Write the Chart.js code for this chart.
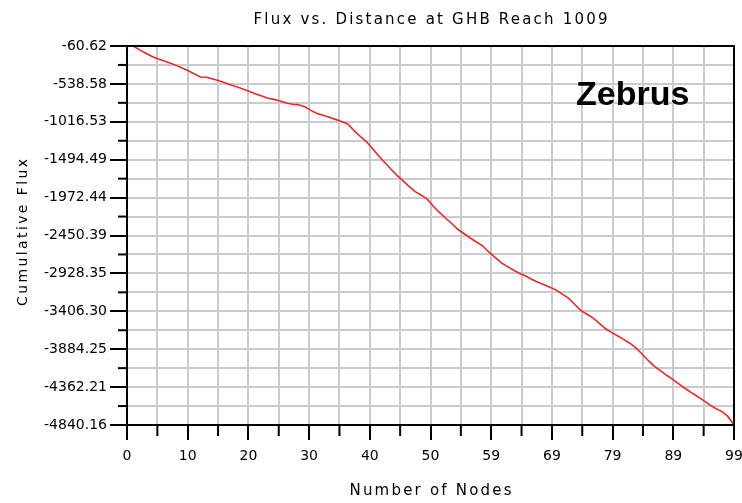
<!DOCTYPE html>
<html>
<head>
<meta charset="utf-8">
<script src="https://cdn.jsdelivr.net/npm/chart.js@4"></script>
<style>
  html, body { margin: 0; padding: 0; background: #fff; }
  #wrap { width: 742px; height: 503px; }
</style>
</head>
<body>
<div id="wrap"><canvas id="flux"></canvas></div>
<script>
const chartTitle = 'Flux vs. Distance at GHB Reach 1009';
const xTitle = 'Number of Nodes';
const yTitle = 'Cumulative Flux';
const stamp = 'Zebrus';

const nodes = [1, 2, 3, 4, 5, 6, 7, 8, 9, 10, 11, 12, 13, 14, 15, 16, 17, 18, 19, 20,
  21, 22, 23, 24, 25, 26, 27, 28, 29, 30, 31, 32, 33, 34, 35, 36, 37, 38, 39, 40,
  41, 42, 43, 44, 45, 46, 47, 48, 49, 50, 51, 52, 53, 54, 55, 56, 57, 58, 59, 60,
  61, 62, 63, 64, 65, 66, 67, 68, 69, 70, 71, 72, 73, 74, 75, 76, 77, 78, 79, 80,
  81, 82, 83, 84, 85, 86, 87, 88, 89, 90, 91, 92, 93, 94, 95, 96, 97, 98, 99];

const cumFlux = [-60.62, -106, -149, -190, -220, -247, -275, -305, -338, -372,
  -414, -452, -455, -477, -498, -525, -551, -578, -605, -633,
  -665, -691, -719, -734, -754, -779, -795, -802, -827, -872,
  -911, -933, -960, -986, -1014, -1043, -1124, -1197, -1262, -1351,
  -1441, -1527, -1609, -1690, -1759, -1830, -1897, -1942, -1996, -2085,
  -2163, -2233, -2302, -2375, -2428, -2482, -2532, -2580, -2658, -2724,
  -2792, -2840, -2885, -2926, -2962, -3003, -3041, -3071, -3102, -3139,
  -3189, -3241, -3317, -3395, -3443, -3490, -3556, -3623, -3672, -3714,
  -3761, -3809, -3868, -3945, -4026, -4097, -4155, -4213, -4264, -4321,
  -4377, -4429, -4478, -4530, -4583, -4632, -4668, -4732, -4840.16];

const xTickLabels = ['0', '10', '20', '30', '40', '50', '59', '69', '79', '89', '99'];
const yTickLabels = ['-60.62', '-538.58', '-1016.53', '-1494.49', '-1972.44', '-2450.39',
  '-2928.35', '-3406.30', '-3884.25', '-4362.21', '-4840.16'];

const xMax = Number(xTickLabels[xTickLabels.length - 1]);
const yMax = Number(yTickLabels[0]);
const yMin = Number(yTickLabels[yTickLabels.length - 1]);

// major ticks with a minor one half way between
function withMinor(lo, hi, n) {
  const out = [];
  const step = (hi - lo) / n;
  for (let i = 0; i <= n * 2; i++) out.push({ value: lo + i * step / 2 });
  return out;
}

const tickFont = { family: 'DejaVu Sans', size: 14 };
const gridCol = '#cbcbcb';

function spacedText(ctx, txt, x, y, spacing) {
  ctx.letterSpacing = spacing + 'px';
  ctx.fillText(txt, x + spacing / 2, y);
  ctx.letterSpacing = '0px';
}

const frame = {
  id: 'frame',
  afterDraw(chart) {
    const { ctx, chartArea: a, scales } = chart;
    const cx = (a.left + a.right) / 2;
    ctx.save();
    // minor tick marks
    ctx.strokeStyle = '#000';
    ctx.lineWidth = 2;
    scales.x.ticks.forEach((t, i) => {
      if (i % 2 === 0) return;
      const px = scales.x.getPixelForValue(t.value);
      ctx.beginPath(); ctx.moveTo(px, a.bottom); ctx.lineTo(px, a.bottom + 11); ctx.stroke();
    });
    scales.y.ticks.forEach((t, i) => {
      if (i % 2 === 0) return;
      const py = scales.y.getPixelForValue(t.value);
      ctx.beginPath(); ctx.moveTo(a.left, py); ctx.lineTo(a.left - 9, py); ctx.stroke();
    });
    ctx.strokeRect(a.left, a.top, a.right - a.left, a.bottom - a.top);

    ctx.fillStyle = '#000';
    ctx.textAlign = 'center';
    ctx.textBaseline = 'middle';
    ctx.font = '15px "DejaVu Sans"';
    spacedText(ctx, chartTitle, cx, 20, 2.2);
    spacedText(ctx, xTitle, cx, 491, 2.2);
    ctx.save();
    ctx.translate(23, (a.top + a.bottom) / 2 - 3);
    ctx.rotate(-Math.PI / 2);
    ctx.font = '14px "DejaVu Sans"';
    spacedText(ctx, yTitle, 0, 0, 2.4);
    ctx.restore();

    ctx.font = 'bold 34px "Liberation Sans"';
    ctx.textBaseline = 'alphabetic';
    ctx.fillText(stamp, a.left + (a.right - a.left) * 0.833, a.top + 59);
    ctx.restore();
  }
};

new Chart(document.getElementById('flux'), {
  type: 'line',
  data: {
    labels: nodes,
    datasets: [{
      data: cumFlux,
      borderColor: '#e8282b',
      borderWidth: 1.6,
      pointRadius: 0,
      tension: 0,
      fill: false
    }]
  },
  options: {
    responsive: true,
    maintainAspectRatio: false,
    animation: false,
    layout: { padding: { left: 0, right: 8, top: 46, bottom: 0 } },
    plugins: { legend: { display: false }, tooltip: { enabled: false } },
    scales: {
      x: {
        type: 'linear',
        min: 0,
        max: xMax,
        afterBuildTicks: s => { s.ticks = withMinor(0, xMax, xTickLabels.length - 1); },
        afterFit: s => { s.height = 78; s.paddingLeft = 0; s.paddingRight = 0; },
        border: { display: true, color: '#000', width: 2 },
        grid: {
          color: gridCol,
          lineWidth: 2,
          tickLength: 15,
          tickWidth: 2,
          tickColor: c => c.index % 2 ? 'rgba(0,0,0,0)' : '#000'
        },
        ticks: {
          autoSkip: false,
          maxRotation: 0,
          padding: 8,
          color: '#000',
          font: tickFont,
          callback: (v, i) => i % 2 ? '' : xTickLabels[i / 2]
        }
      },
      y: {
        min: yMin,
        max: yMax,
        afterBuildTicks: s => { s.ticks = withMinor(yMin, yMax, yTickLabels.length - 1); },
        afterFit: s => { s.width = 127; s.paddingTop = 0; s.paddingBottom = 0; },
        border: { display: true, color: '#000', width: 2 },
        grid: {
          color: gridCol,
          lineWidth: 2,
          tickLength: 17,
          tickWidth: 2,
          tickColor: c => c.index % 2 ? 'rgba(0,0,0,0)' : '#000'
        },
        ticks: {
          autoSkip: false,
          padding: 3,
          color: '#000',
          font: tickFont,
          callback: (v, i) => i % 2 ? '' : yTickLabels[yTickLabels.length - 1 - i / 2]
        }
      }
    }
  },
  plugins: [frame]
});
</script>
</body>
</html>
